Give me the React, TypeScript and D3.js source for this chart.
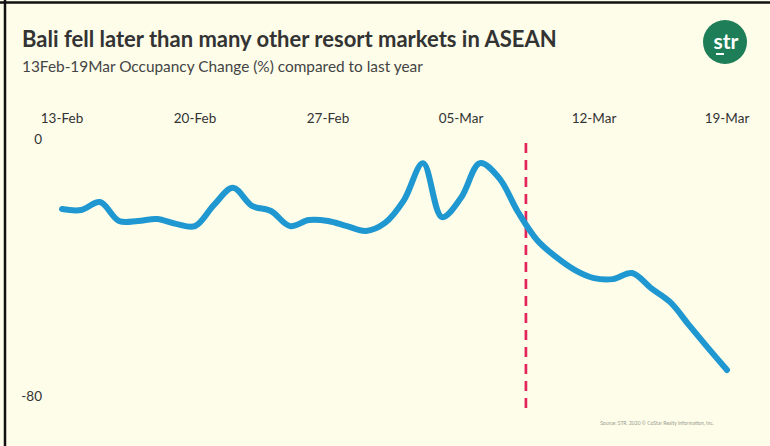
import React from "react";
import * as d3 from "d3";

// Daily occupancy change (%) vs. last year, 13 Feb – 19 Mar 2020
const startDate = new Date(2020, 1, 13);
const occupancyChange = [
  -21.5, -21.8, -19.3, -25.2, -25.2, -24.6, -26.1, -26.8, -20.2, -14.9,
  -20.5, -22.1, -26.8, -24.9, -25.2, -26.8, -28.3, -25.8, -18.7, -7.2,
  -24.0, -18.0, -7.2, -11.8, -22.4, -31.1, -36.4, -40.5, -43.0, -43.3,
  -41.4, -46.1, -50.4, -57.6, -64.7, -71.6,
];
const tickDates = [
  new Date(2020, 1, 13),
  new Date(2020, 1, 20),
  new Date(2020, 1, 27),
  new Date(2020, 2, 5),
  new Date(2020, 2, 12),
  new Date(2020, 2, 19),
];
const yTickValues = [0, -80];
const markerDate = new Date(2020, 2, 8, 10);

const title = "Bali fell later than many other resort markets in ASEAN";
const subtitle = "13Feb-19Mar Occupancy Change (%) compared to last year";
const sourceNote = "Source: STR. 2020 \u00A9 CoStar Realty Information, Inc.";

const W = 770;
const H = 446;

export default function App() {
  const points = occupancyChange.map((v, i) => ({
    date: d3.timeDay.offset(startDate, i),
    value: v,
  }));

  const x = d3
    .scaleTime()
    .domain([startDate, tickDates[tickDates.length - 1]])
    .range([62, 727]);
  const y = d3.scaleLinear().domain([-80, 0]).range([397, 140]);

  const line = d3
    .line<{ date: Date; value: number }>()
    .x((d) => x(d.date))
    .y((d) => y(d.value))
    .curve(d3.curveCatmullRom.alpha(0.5));

  const fmt = d3.timeFormat("%d-%b");
  const font = "Lato, 'Open Sans', sans-serif";

  return (
    <svg
      width={W}
      height={H}
      style={{ position: "absolute", left: 0, top: 0, display: "block" }}
    >
      <rect x={0} y={0} width={W} height={H} fill="#fdfdea" />
      {/* frame edges */}
      <line x1={0} x2={W} y1={2.5} y2={2.5} stroke="#111" strokeWidth={2.5} />
      <line x1={5} x2={5} y1={0} y2={H} stroke="#111" strokeWidth={2.5} />

      <text
        x={22}
        y={47}
        fontFamily={font}
        fontWeight={700}
        fontSize={22}
        fill="#333"
      >
        {title}
      </text>
      <text x={22} y={72} fontFamily={font} fontSize={15.4} fill="#444">
        {subtitle}
      </text>

      {/* logo */}
      <g transform="translate(725,42)">
        <circle r={22} fill="#1d7e57" />
        <text
          x={1}
          y={7}
          textAnchor="middle"
          fontFamily={font}
          fontWeight={700}
          fontSize={21}
          fill="#fff"
        >
          str
        </text>
        <rect x={-9} y={11} width={8} height={2} fill="#fff" />
      </g>

      {/* x-axis labels along the top */}
      {tickDates.map((d) => (
        <text
          key={+d}
          x={x(d)}
          y={123}
          textAnchor="middle"
          fontFamily={font}
          fontSize={13.5}
          fill="#333"
        >
          {fmt(d)}
        </text>
      ))}

      {yTickValues.map((v) => (
        <text
          key={v}
          x={42}
          y={y(v) + 4}
          textAnchor="end"
          fontFamily={font}
          fontSize={13.5}
          fill="#333"
        >
          {v}
        </text>
      ))}

      <line
        x1={x(markerDate)}
        x2={x(markerDate)}
        y1={143}
        y2={409}
        stroke="#e3245a"
        strokeWidth={2.7}
        strokeDasharray="10,7"
      />

      <path
        d={line(points) || ""}
        fill="none"
        stroke="#1f97d0"
        strokeWidth={6}
        strokeLinecap="round"
        strokeLinejoin="round"
      />

      <text
        x={657}
        y={425}
        textAnchor="middle"
        fontFamily={font}
        fontSize={5}
        fill="#9a9a8e"
      >
        {sourceNote}
      </text>
    </svg>
  );
}
